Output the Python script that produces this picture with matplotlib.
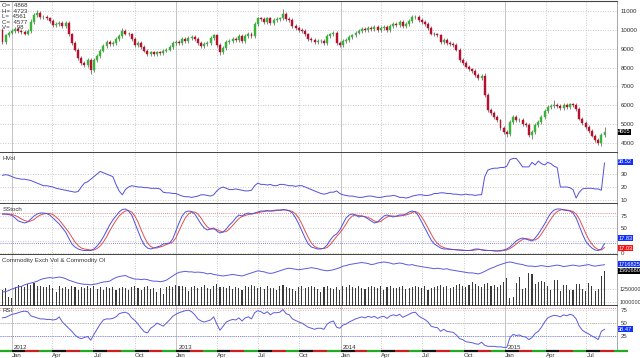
import numpy as np
import pandas as pd
import matplotlib
matplotlib.use('Agg')
from matplotlib import pyplot as plt
import matplotlib.dates as mdates

# weekly closes (price x100)
closes = [
    9350, 9700, 9850, 9950, 10050, 9950, 9900, 9800, 9950, 10400,
    10800, 10900, 10650, 10700, 10600, 10450, 10250, 10300, 10350, 10200,
    10350, 9750, 9300, 8950, 8500, 8250, 8150, 8400, 7850, 8400,
    8600, 8900, 9150, 9350, 9250, 9300, 9500, 9650, 9950, 9800,
    9750, 9500, 9200, 9300, 9100, 8900, 8700, 8800, 8700, 8800,
    8750, 8900, 8950, 9100, 9300, 9350, 9300, 9500, 9400, 9550,
    9600, 9500, 9300, 9150, 9250, 9300, 9550, 9700, 9200, 8800,
    9050, 9350, 9400, 9500, 9450, 9650, 9400, 9650, 9800, 9650,
    10300, 10600, 10550, 10400, 10600, 10350, 10500, 10550, 10600, 10850,
    10550, 10500, 10200, 10100, 10000, 9950, 9750, 9500, 9450, 9350,
    9400, 9400, 9300, 9650, 9750, 9850, 9300, 9200, 9400, 9450,
    9600, 9700, 9850, 9950, 10050, 10000, 10100, 10050, 10150, 10000,
    10100, 10150, 10000, 10200, 10300, 10250, 10400, 10200, 10300, 10450,
    10650, 10700, 10500, 10400, 10300, 10100, 9800, 9750, 9700, 9350,
    9450, 9300, 9250, 9200, 8950, 8400, 8250, 8050, 7900, 7800,
    7600, 7450, 7550, 6530, 5740, 5580, 5400, 5200, 4800, 4600,
    4500, 5120, 5380, 5200, 5250, 5000, 4950, 4450, 4600, 4950,
    5100, 5380, 5700, 5900, 5950, 6000, 5950, 5850, 6000, 5900,
    6050, 6000, 5800, 5300, 5050, 4850, 4650, 4400, 4150, 4000,
    4450, 4600]
first_open = 9990
wick_up = [
    100, 100, 100, 100, 100, 100, 100, 100, 100, 150,
    100, 150, 100, 100, 100, 100, 100, 100, 100, 100,
    100, 100, 100, 100, 100, 100, 100, 100, 100, 100,
    100, 100, 100, 100, 100, 100, 100, 100, 150, 100,
    100, 100, 100, 100, 100, 100, 100, 100, 100, 100,
    100, 100, 100, 100, 100, 100, 100, 100, 100, 100,
    100, 100, 100, 100, 100, 100, 100, 100, 100, 100,
    100, 100, 100, 100, 100, 100, 100, 100, 100, 100,
    100, 100, 100, 100, 100, 100, 100, 100, 100, 250,
    100, 100, 100, 100, 100, 100, 100, 100, 100, 100,
    100, 100, 100, 100, 100, 100, 100, 100, 100, 100,
    100, 100, 100, 100, 100, 100, 100, 100, 100, 100,
    100, 100, 100, 100, 100, 100, 100, 100, 100, 100,
    150, 100, 100, 100, 100, 100, 100, 100, 100, 100,
    100, 100, 100, 100, 100, 100, 100, 100, 100, 100,
    100, 100, 100, 150, 100, 100, 100, 100, 100, 100,
    100, 100, 100, 100, 100, 100, 100, 100, 100, 100,
    100, 100, 100, 100, 100, 300, 100, 100, 100, 100,
    100, 100, 100, 100, 100, 100, 100, 100, 100, 100,
    100, 250]
wick_dn = [
    100, 100, 100, 100, 100, 100, 100, 100, 100, 100,
    100, 100, 100, 100, 100, 100, 100, 100, 100, 100,
    100, 100, 100, 100, 100, 100, 100, 100, 200, 100,
    100, 100, 100, 100, 100, 100, 100, 100, 100, 100,
    100, 100, 100, 100, 100, 100, 100, 100, 100, 100,
    100, 100, 100, 100, 100, 100, 100, 100, 100, 100,
    100, 100, 100, 100, 100, 100, 100, 100, 100, 150,
    100, 100, 100, 100, 100, 100, 100, 100, 100, 100,
    100, 100, 100, 100, 100, 100, 100, 100, 100, 100,
    100, 100, 100, 100, 100, 100, 100, 100, 100, 100,
    100, 100, 100, 100, 100, 100, 100, 100, 100, 100,
    100, 100, 100, 100, 100, 100, 100, 100, 100, 100,
    100, 100, 100, 100, 100, 100, 100, 100, 100, 100,
    100, 100, 100, 100, 100, 100, 100, 100, 100, 100,
    100, 100, 100, 100, 100, 100, 100, 100, 100, 100,
    100, 100, 100, 100, 100, 100, 100, 100, 100, 100,
    150, 100, 100, 100, 100, 100, 100, 100, 250, 100,
    100, 100, 100, 100, 100, 100, 100, 100, 100, 100,
    100, 100, 100, 100, 100, 100, 100, 100, 100, 100,
    150, 100]

hvol = [
    29, 29.5, 29, 28, 27, 26.5, 26, 26, 25.5, 25,
    24, 23, 22, 21, 21, 20.5, 20, 19, 18.5, 18,
    17.5, 17, 16.5, 16, 16.5, 20, 23, 24, 26, 28,
    30, 32, 31, 30, 29, 28, 22, 17, 14, 18,
    20, 21, 20.5, 20, 20, 19.5, 19.5, 19, 19, 19,
    18.5, 16, 15.5, 15.5, 15, 15, 14, 13, 12.5, 12.5,
    12, 12.5, 13, 14, 14, 13.5, 13, 14, 17, 19,
    20, 19, 18, 18, 18.5, 18, 17.5, 17, 17, 17.5,
    21, 23, 22, 22, 21.5, 22, 21, 21, 22, 22,
    21.5, 21, 21, 20.5, 21, 21, 20, 19, 18, 17,
    16, 15, 14.5, 15, 16, 16, 17, 15, 14, 13.5,
    13, 13, 12.5, 12, 12, 12.5, 13, 13, 12.5, 12,
    12, 12.5, 13, 13, 13.5, 13, 12, 12, 11.5, 12,
    13, 13.5, 14, 14, 13.5, 13.5, 14, 15, 15, 15.5,
    15.5, 15, 15, 14.5, 14.5, 14, 14, 14.5, 14, 14,
    13.5, 14, 14, 28, 33, 34, 34.5, 34.5, 35, 35,
    36, 41, 42, 42, 39, 35.5, 35.5, 35.5, 39, 37,
    40, 38, 37, 39, 38, 36, 35, 20, 20, 20,
    19.5, 18, 11.5, 16, 18.5, 19, 19, 19, 18.5, 18.5,
    17.5, 38.5]

stoch_k = [
    78, 78, 77, 75, 70, 64, 62, 60, 62, 68,
    74, 78, 80, 80, 79, 76, 70, 64, 58, 50,
    42, 30, 18, 12, 8, 6, 5, 5, 5, 8,
    14, 22, 32, 44, 56, 66, 74, 82, 87, 88,
    84, 76, 60, 44, 28, 16, 10, 8, 10, 12,
    14, 18, 19, 20, 28, 44, 60, 74, 82, 84,
    83, 78, 68, 58, 50, 46, 48, 50, 44, 40,
    42, 48, 56, 62, 70, 76, 74, 78, 80, 78,
    80, 82, 84, 84, 85, 84, 85, 86, 86, 87,
    86, 84, 80, 70, 58, 44, 30, 18, 12, 10,
    8, 8, 10, 16, 26, 34, 38, 46, 58, 70,
    76, 78, 76, 72, 74, 72, 68, 64, 60, 62,
    68, 74, 76, 74, 72, 74, 76, 76, 78, 82,
    84, 82, 74, 62, 50, 38, 26, 18, 14, 10,
    8, 8, 7, 7, 6, 6, 5, 5, 5, 6,
    8, 8, 6, 5, 5, 5, 4, 4, 5, 6,
    8, 12, 18, 24, 28, 30, 28, 26, 24, 30,
    38, 48, 58, 70, 80, 86, 88, 88, 86, 85,
    84, 80, 70, 54, 38, 24, 16, 10, 6, 5,
    8, 19]
stoch_d = [
    78, 78, 78, 77, 75, 72, 68, 65, 63, 64,
    67, 72, 76, 78, 79, 79, 77, 72, 66, 58,
    50, 42, 32, 22, 15, 10, 8, 7, 6, 6,
    9, 14, 22, 32, 44, 55, 65, 74, 80, 84,
    85, 82, 74, 62, 46, 32, 20, 13, 10, 10,
    12, 14, 17, 19, 22, 30, 44, 58, 70, 78,
    82, 82, 78, 70, 60, 52, 48, 48, 47, 44,
    42, 43, 48, 55, 62, 69, 73, 75, 77, 78,
    79, 80, 82, 83, 84, 84, 84, 85, 85, 86,
    86, 85, 83, 78, 70, 58, 44, 31, 20, 13,
    10, 9, 9, 11, 17, 25, 33, 40, 48, 58,
    68, 74, 76, 75, 74, 73, 71, 68, 64, 62,
    63, 68, 72, 74, 74, 73, 74, 75, 76, 78,
    81, 83, 80, 72, 62, 50, 38, 27, 19, 14,
    11, 9, 8, 7, 7, 6, 6, 5, 5, 5,
    6, 7, 7, 6, 5, 5, 5, 4, 4, 5,
    6, 9, 13, 18, 23, 27, 29, 28, 26, 26,
    30, 38, 48, 58, 68, 77, 83, 86, 87, 86,
    85, 83, 78, 68, 54, 40, 27, 18, 11, 7,
    6, 11]

# exchange volume and open interest, thousands of contracts
volume = [
    1230, 1260, 1100, 1080, 1280, 1320, 1300, 1290, 1350, 1330,
    1360, 1300, 1310, 1290, 1280, 1330, 1270, 1200, 1300, 1260,
    1280, 1250, 1300, 1280, 1230, 1290, 1260, 1310, 1270, 1300,
    1250, 1290, 1240, 1290, 1270, 1280, 1240, 1260, 1290, 1270,
    1230, 1280, 1300, 1260, 1240, 1280, 1300, 1250, 1270, 1200,
    1260, 1150, 1280, 1300, 1290, 1320, 1300, 1310, 1290, 1220,
    1280, 1300, 1260, 1290, 1320, 1270, 1250, 1310, 1350, 1290,
    1280, 1260, 1300, 1250, 1290, 1270, 1240, 1300, 1280, 1320,
    1300, 1260, 1290, 1250, 1300, 1270, 1260, 1240, 1300, 1330,
    1290, 1270, 1250, 1220, 1280, 1300, 1260, 1290, 1310, 1280,
    1250, 1200, 1290, 1300, 1270, 1250, 1280, 1230, 1300, 1280,
    1320, 1290, 1260, 1300, 1270, 1250, 1290, 1310, 1280, 1260,
    1300, 1240, 1290, 1310, 1270, 1260, 1280, 1300, 1250, 1270,
    1290, 1310, 1280, 1260, 1300, 1240, 1270, 1290, 1310, 1330,
    1280, 1300, 1260, 1290, 1320, 1350, 1300, 1280, 1330, 1380,
    1340, 1310, 1290, 1340, 1360, 1300, 1320, 1280, 1330, 1380,
    1460, 1080, 1100, 1370, 1480, 1250, 1270, 1560, 1540, 1340,
    1380, 1400, 1380, 1310, 1230, 1430, 1430, 1220, 1320, 1320,
    1230, 1230, 1350, 1350, 1250, 1220, 1370, 1310, 1220, 1250,
    1500, 1600]
open_int = [
    1190, 1200, 1220, 1250, 1270, 1290, 1300, 1330, 1350, 1365,
    1380, 1400, 1430, 1450, 1460, 1470, 1460, 1470, 1480, 1470,
    1450, 1420, 1400, 1380, 1360, 1350, 1340, 1340, 1330, 1340,
    1350, 1370, 1385, 1390, 1400, 1440, 1470, 1490, 1500, 1510,
    1480, 1460, 1440, 1440, 1430, 1440, 1430, 1410, 1400, 1400,
    1390, 1400, 1420, 1460, 1500, 1540, 1570, 1580, 1590, 1580,
    1580, 1570, 1575, 1570, 1560, 1540, 1550, 1530, 1520, 1510,
    1500, 1510, 1520, 1530, 1520, 1510, 1500, 1520, 1540, 1560,
    1580, 1600, 1590, 1580, 1560, 1550, 1560, 1580, 1600, 1620,
    1640, 1650, 1640, 1630, 1620, 1630, 1640, 1650, 1660, 1650,
    1640, 1620, 1610, 1600, 1610, 1620, 1640, 1660, 1690, 1700,
    1720, 1730, 1740, 1750, 1760, 1750, 1740, 1720, 1730, 1750,
    1760, 1770, 1760, 1750, 1730, 1740, 1750, 1740, 1720, 1710,
    1720, 1700, 1690, 1680, 1670, 1660, 1650, 1640, 1650, 1640,
    1630, 1640, 1620, 1610, 1600, 1590, 1580, 1570, 1560, 1560,
    1550, 1540, 1560, 1590, 1620, 1650, 1670, 1700, 1720, 1740,
    1760, 1770, 1760, 1740, 1730, 1720, 1700, 1690, 1690, 1680,
    1690, 1700, 1690, 1680, 1690, 1700, 1710, 1700, 1680, 1690,
    1700, 1710, 1700, 1690, 1700, 1710, 1720, 1700, 1690, 1700,
    1710, 1717]

rsi = [
    60, 61, 64, 67, 68, 70, 72, 73, 72, 64,
    62, 60, 58, 58, 57, 57, 56, 57, 62, 52,
    46, 40, 34, 27, 22, 20, 22, 24, 17, 28,
    38, 48, 56, 58, 58, 59, 62, 68, 70, 71,
    68, 60, 55, 48, 40, 33, 31, 40, 44, 50,
    47, 44, 50, 56, 63, 67, 70, 72, 74, 75,
    72, 66, 58, 54, 52, 54, 56, 62, 48, 36,
    44, 52, 55, 57, 56, 60, 54, 60, 62, 58,
    70, 74, 72, 68, 72, 66, 70, 70, 71, 76,
    68, 66, 58, 55, 52, 50, 46, 42, 40, 38,
    40, 40, 38, 48, 52, 54, 42, 40, 46, 48,
    52, 55, 58, 60, 62, 60, 63, 61, 63, 59,
    62, 63, 59, 64, 66, 64, 67, 61, 64, 67,
    70, 71, 64, 60, 57, 52, 44, 42, 41, 34,
    38, 34, 33, 32, 27, 20, 18, 14, 13, 12,
    10, 9, 13, 7, 5, 5, 5, 4, 4, 3,
    3, 22, 28, 26, 27, 24, 23, 18, 22, 30,
    34, 42, 52, 60, 63, 65, 64, 62, 66, 64,
    67, 65, 58, 44, 36, 32, 29, 25, 22, 18,
    34, 38]

ohlc_text = ['O=  4868', 'H=  4723', 'L=  4561', 'C=  4577', 'V=    98']
price_ticks = [4000, 5000, 6000, 7000, 8000, 9000, 10000, 11000]

# ---------------------------------------------------------------
plt.rcParams['font.family'] = ['Liberation Sans', 'DejaVu Sans']

n = len(closes)
dates = pd.date_range('2011-12-12', periods=n, freq='7D')
xd = mdates.date2num(dates)
c = np.array(closes, float)
o = np.concatenate([[first_open], c[:-1]])
hi = np.maximum(o, c) + np.array(wick_up)
lo = np.minimum(o, c) - np.array(wick_dn)

W, H = 640, 358
x_left = mdates.date2num(pd.Timestamp('2012-01-01')) - 11.5 / 0.45027
x_right = x_left + 617 / 0.45027
quarters = pd.date_range('2012-01-01', '2015-08-01', freq='QS')
months = pd.date_range('2011-12-01', '2015-10-01', freq='MS')

TXT = '#333333'
FS = 4.4
GRID = '#b8b8b8'

fig = plt.figure(figsize=(6.4, 3.58), dpi=100)


def rect(top, bot):
    return [0, 1 - bot / H, 617 / W, (bot - top) / H]


def style(ax, ticks, labels=None, fs=FS, pad=2.5):
    ax.set_xlim(x_left, x_right)
    ax.yaxis.tick_right()
    ax.set_yticks(ticks)
    if labels is not None:
        ax.set_yticklabels(labels)
    ax.tick_params(axis='y', length=0, pad=pad, labelsize=fs, labelcolor=TXT)
    ax.tick_params(axis='x', length=0, labelbottom=False)
    for t in ticks:
        ax.axhline(t, color=GRID, lw=0.6, ls=(0, (1, 2)), zorder=0)
    for q in quarters:
        if q.month == 1:
            ax.axvline(mdates.date2num(q), color='#c4c4c4', lw=0.7, zorder=0)
        else:
            ax.axvline(mdates.date2num(q), color=GRID, lw=0.6, ls=(0, (1, 2)), zorder=0)
    for s in ['left', 'top']:
        ax.spines[s].set_visible(False)
    ax.spines['right'].set_color('#999999')
    ax.spines['right'].set_linewidth(0.6)
    ax.spines['bottom'].set_color('#222222')
    ax.spines['bottom'].set_linewidth(1.2)


def tag(ax, y, text, fc, tc='white'):
    ax.text(1.002, y, text, transform=ax.get_yaxis_transform(), ha='left', va='center',
            fontsize=4.1, color=tc, bbox=dict(boxstyle='square,pad=0.1', fc=fc, ec='none'),
            clip_on=False, zorder=5)


def title(ax, text):
    ax.text(0.004, 0.95, text, transform=ax.transAxes, fontsize=FS, color=TXT, va='top')


# price panel
ax_p = fig.add_axes(rect(1, 153))
style(ax_p, price_ticks)
ax_p.set_ylim(3480, 11520)
ax_p.spines['top'].set_visible(True)
ax_p.spines['top'].set_color('#444444')
ax_p.vlines(xd, lo, hi, color='#555555', lw=0.5, zorder=2)
up = c >= o
cols = np.where(up, '#38b438', '#b8102c')
ax_p.bar(xd, c - o, bottom=o, width=4.4, color=cols, edgecolor=cols, lw=0.3, zorder=3)
for k, s in enumerate(ohlc_text):
    ax_p.text(0.004, 1 - (2 + 5.6 * k) / 152, s, transform=ax_p.transAxes, fontsize=4.4,
              color=TXT, va='top', ha='left')
tag(ax_p, 4600, '4605', '#000000')

# historical volatility
ax_h = fig.add_axes(rect(153, 204))
style(ax_h, [10, 20, 30])
ax_h.set_ylim(6.9, 46.2)
ax_h.plot(xd, hvol, color='#5050e0', lw=0.7)
title(ax_h, 'HVol')
tag(ax_h, 39.5, '38.52', '#1030ff')

# slow stochastic (the 25 label sits under the value tags)
ax_s = fig.add_axes(rect(204, 255))
style(ax_s, [0, 25, 50, 75], ['0', '', '50', '75'])
ax_s.set_ylim(-4, 98)
ax_s.axhline(80, color='#e06060', lw=0.6, ls=(0, (1, 1.5)))
ax_s.axhline(20, color='#6060e0', lw=0.6, ls=(0, (1, 1.5)))
ax_s.plot(xd, stoch_d, color='#e05050', lw=0.7)
ax_s.plot(xd, stoch_k, color='#5050e0', lw=0.7)
title(ax_s, 'SStoch')
tag(ax_s, 30, '17.83', '#1030ff')
tag(ax_s, 10, '17.03', '#ff1010')

# volume + open interest
ax_v = fig.add_axes(rect(255, 306))
style(ax_v, [1000, 1250], ['1000000', '1250000'], fs=3.9, pad=1.5)
ax_v.set_ylim(923, 1904)
ax_v.bar(xd, np.array(volume) - 900, bottom=900, width=2.4, color='#3a3a3a', zorder=2)
ax_v.plot(xd, open_int, color='#5a5ae0', lw=0.7, zorder=3)
title(ax_v, 'Commodity Exch Vol & Commodity OI')
tag(ax_v, 1725, '1716825', '#1030ff')
tag(ax_v, 1600, '1560680', '#000000')

# RSI
ax_r = fig.add_axes(rect(306, 351))
style(ax_r, [25, 50, 75])
ax_r.set_ylim(-4, 83)
ax_r.axhline(80, color='#e06060', lw=0.6, ls=(0, (1, 1.5)))
ax_r.axhline(50, color='#aaaaaa', lw=0.6, ls=(0, (1, 1.5)))
ax_r.axhline(25, color='#6060e0', lw=0.6, ls=(0, (1, 1.5)))
ax_r.plot(xd, rsi, color='#5a5ae0', lw=0.7)
title(ax_r, 'RSI')
tag(ax_r, 38.47, '38.47', '#1030ff')

# bottom time axis: coloured month strip, month and year labels
strip_cols = {0: '#111111', 1: '#cc2020', 2: '#22aa22'}
for m0, m1 in zip(months[:-1], months[1:]):
    col = strip_cols[(m0.month - 1) % 3]
    ax_r.plot([mdates.date2num(m0), mdates.date2num(m1)], [-3.2, -3.2], color=col,
              lw=1.6, solid_capstyle='butt', clip_on=False, zorder=4)
ax_r.spines['bottom'].set_visible(False)
ax_r.set_xticks(mdates.date2num(quarters))
ax_r.set_xticklabels([q.strftime('%b') for q in quarters])
ax_r.tick_params(axis='x', labelbottom=True, length=0, pad=1.5, labelsize=FS, labelcolor=TXT)
for lab in ax_r.get_xticklabels():
    lab.set_horizontalalignment('left')
for q in quarters:
    if q.month == 1:
        ax_r.text(mdates.date2num(q) + 5, -2, str(q.year), fontsize=FS, color=TXT,
                  ha='left', va='bottom')

fig.savefig('out.png', dpi=100)
